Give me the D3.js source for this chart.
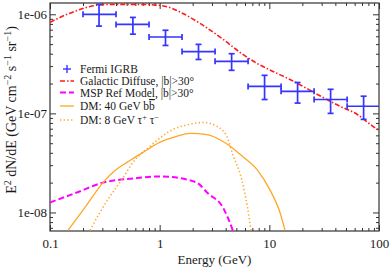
<!DOCTYPE html>
<html>
<head>
<meta charset="utf-8">
<script src="https://cdn.jsdelivr.net/npm/d3@7"></script>
<style>
  html, body { margin: 0; padding: 0; background: #fff; }
  svg, svg text { font-family: 'Liberation Serif', 'Times New Roman', 'DejaVu Serif', serif; }
  svg { display: block; }
</style>
</head>
<body>
<svg id="chart" width="390" height="268"></svg>
<script>
// ---- data ----
const igrbE    = [0.28, 0.57, 1.13, 2.26, 4.53, 9.05, 18.1, 36.2, 72.4];
const igrbELo  = [0.2, 0.4, 0.8, 1.6, 3.2, 6.4, 12.8, 25.6, 51.2];
const igrbEHi  = [0.4, 0.8, 1.6, 3.2, 6.4, 12.8, 25.6, 51.2, 102.4];
const igrbFlux = [1.0e-6, 7.9e-7, 5.9e-7, 4.2e-7, 3.35e-7, 1.87e-7, 1.67e-7, 1.38e-7, 1.18e-7];
const igrbHi   = [1.26e-6, 9.3e-7, 6.9e-7, 4.97e-7, 4.0e-7, 2.42e-7, 2.05e-7, 1.75e-7, 1.49e-7];
const igrbLo   = [7.6e-7, 6.3e-7, 4.85e-7, 3.5e-7, 2.72e-7, 1.38e-7, 1.27e-7, 1.0e-7, 8.7e-8];

const galE    = [0.1, 0.143, 0.188, 0.232, 0.352, 0.535, 0.815, 1.17, 1.63, 2.33, 3.78, 5.4, 7.7, 10.8, 15.4, 30.8, 44, 63, 88, 100];
const galFlux = [8.3e-7, 1.0e-6, 1.12e-6, 1.2e-6, 1.26e-6, 1.26e-6, 1.25e-6, 1.19e-6, 1.02e-6, 8.1e-7, 5.6e-7, 4.13e-7, 3.2e-7, 2.65e-7, 2.2e-7, 1.45e-7, 1.18e-7, 9.8e-8, 7.4e-8, 6.7e-8];

const mspE    = [0.1, 0.176, 0.304, 0.571, 1.0, 1.77, 2.3, 2.7, 3.78, 4.64, 5.2];
const mspFlux = [1.26e-8, 1.59e-8, 2.0e-8, 2.2e-8, 2.31e-8, 2.15e-8, 1.92e-8, 1.59e-8, 1.12e-8, 6.6e-9, 4.5e-9];

const bbE    = [0.146, 0.208, 0.304, 0.391, 0.503, 0.705, 1.0, 1.43, 1.89, 2.7, 3.78, 4.64, 5.7, 7.7, 10.1, 12.5, 13.9];
const bbFlux = [6.6e-9, 1.12e-8, 2.0e-8, 2.65e-8, 3.2e-8, 4.04e-8, 5.1e-8, 5.86e-8, 6.28e-8, 6.1e-8, 5.2e-8, 4.45e-8, 3.68e-8, 2.72e-8, 1.7e-8, 1.0e-8, 6.6e-9];

const tauE    = [0.232, 0.285, 0.352, 0.453, 0.571, 0.815, 1.33, 1.89, 2.5, 3.33, 4.1, 4.64, 5.6, 6.3, 6.8];
const tauFlux = [6.6e-9, 1.0e-8, 1.45e-8, 2.15e-8, 3.2e-8, 4.65e-8, 6.9e-8, 7.75e-8, 8.1e-8, 7.4e-8, 5.86e-8, 3.86e-8, 2.15e-8, 1.15e-8, 6.6e-9];

const xMajor = [0.1, 1, 10, 100];
const xMajorLabels = ["0.1", "1", "10", "100"];
const yMajor = [1e-8, 1e-7, 1e-6];
const yMajorLabels = ["1e-08", "1e-07", "1e-06"];

// ---- layout ----
const svg = d3.select("#chart");
const pLeft = 50, pRight = 379, pTop = 3, pBottom = 231;
const serif = "'Liberation Serif', 'Times New Roman', serif";

const x = d3.scaleLog().domain([0.1, 100]).range([pLeft, pRight]);
const y = d3.scaleLog().domain([6.5e-9, 1.3e-6]).range([pBottom, pTop]);

const ink = "#1a1a1a";
const axisColor = "#333";

svg.append("defs").append("clipPath").attr("id", "plotClip")
  .append("rect").attr("x", pLeft).attr("y", pTop)
  .attr("width", pRight - pLeft).attr("height", pBottom - pTop);

// minor tick values
const xMinor = [];
[0.1, 1, 10].forEach(d => { for (let k = 2; k <= 9; k++) xMinor.push(d * k); });
const yMinor = [];
[1e-9, 1e-8, 1e-7, 1e-6].forEach(d => { for (let k = 2; k <= 9; k++) { const v = d * k; if (v > 6.5e-9 && v < 1.3e-6) yMinor.push(v); } });

function styleAxis(g) {
  g.attr("font-family", serif).attr("font-size", 13);
  g.select(".domain").remove();
  g.selectAll("line").attr("stroke", axisColor).attr("stroke-width", 1);
  g.selectAll("text").attr("fill", ink);
}

// bottom
svg.append("g").attr("transform", `translate(0,${pBottom})`)
  .call(d3.axisBottom(x).tickValues(xMajor).tickSize(-6).tickPadding(8).tickFormat((d, i) => xMajorLabels[i]))
  .call(styleAxis);
svg.append("g").attr("transform", `translate(0,${pBottom})`)
  .call(d3.axisBottom(x).tickValues(xMinor).tickSize(-3).tickFormat(""))
  .call(styleAxis);
// top
svg.append("g").attr("transform", `translate(0,${pTop})`)
  .call(d3.axisTop(x).tickValues(xMajor).tickSize(-6).tickFormat(""))
  .call(styleAxis);
svg.append("g").attr("transform", `translate(0,${pTop})`)
  .call(d3.axisTop(x).tickValues(xMinor).tickSize(-3).tickFormat(""))
  .call(styleAxis);
// left
svg.append("g").attr("transform", `translate(${pLeft},0)`)
  .call(d3.axisLeft(y).tickValues(yMajor).tickSize(-6).tickPadding(3).tickFormat((d, i) => yMajorLabels[i]))
  .call(styleAxis);
svg.append("g").attr("transform", `translate(${pLeft},0)`)
  .call(d3.axisLeft(y).tickValues(yMinor).tickSize(-3).tickFormat(""))
  .call(styleAxis);
// right
svg.append("g").attr("transform", `translate(${pRight},0)`)
  .call(d3.axisRight(y).tickValues(yMajor).tickSize(-6).tickFormat(""))
  .call(styleAxis);
svg.append("g").attr("transform", `translate(${pRight},0)`)
  .call(d3.axisRight(y).tickValues(yMinor).tickSize(-3).tickFormat(""))
  .call(styleAxis);

// frame
svg.append("rect")
  .attr("x", pLeft).attr("y", pTop)
  .attr("width", pRight - pLeft).attr("height", pBottom - pTop)
  .attr("fill", "none").attr("stroke", axisColor).attr("stroke-width", 1.2);

// ---- curves ----
const plot = svg.append("g").attr("clip-path", "url(#plotClip)");
const line = d3.line().x(d => x(d[0])).y(d => y(d[1])).curve(d3.curveMonotoneX);

const curves = [
  { E: galE, F: galFlux, color: "#ff1a1a", width: 1.6, dash: "5,2,1.5,2" },
  { E: mspE, F: mspFlux, color: "#ff00ff", width: 2, dash: "6,3" },
  { E: bbE,  F: bbFlux,  color: "#ffa726", width: 1.3, dash: null },
  { E: tauE, F: tauFlux, color: "#ffa726", width: 1.6, dash: "1.3,2.4" }
];
curves.forEach(c => {
  plot.append("path")
    .datum(c.E.map((e, i) => [e, c.F[i]]))
    .attr("fill", "none")
    .attr("stroke", c.color)
    .attr("stroke-width", c.width)
    .attr("stroke-dasharray", c.dash)
    .attr("d", line);
});

// ---- Fermi IGRB points ----
const blue = "#3535ff";
const cap = 3;
const pts = plot.append("g").attr("stroke", blue).attr("stroke-width", 1.7).attr("fill", "none");
igrbE.forEach((e, i) => {
  const cx = x(e), cy = y(igrbFlux[i]);
  const x0 = x(igrbELo[i]), x1 = x(igrbEHi[i]);
  const y0 = y(igrbHi[i]), y1 = y(igrbLo[i]);
  pts.append("line").attr("x1", x0).attr("x2", x1).attr("y1", cy).attr("y2", cy);
  pts.append("line").attr("x1", cx).attr("x2", cx).attr("y1", y0).attr("y2", y1);
  pts.append("line").attr("x1", x0).attr("x2", x0).attr("y1", cy - cap).attr("y2", cy + cap);
  pts.append("line").attr("x1", x1).attr("x2", x1).attr("y1", cy - cap).attr("y2", cy + cap);
  pts.append("line").attr("x1", cx - cap).attr("x2", cx + cap).attr("y1", y0).attr("y2", y0);
  pts.append("line").attr("x1", cx - cap).attr("x2", cx + cap).attr("y1", y1).attr("y2", y1);
});

// ---- legend ----
const legendRows = [69, 81, 92.5, 106, 120];
const lg = svg.append("g").attr("font-family", serif).attr("font-size", 11.5).attr("fill", ink);
const symX0 = 60, symX1 = 74, textX = 80;

// Fermi: plus symbol
lg.append("line").attr("x1", 63).attr("x2", 71).attr("y1", legendRows[0]).attr("y2", legendRows[0]).attr("stroke", blue).attr("stroke-width", 1.4);
lg.append("line").attr("x1", 67).attr("x2", 67).attr("y1", legendRows[0] - 4).attr("y2", legendRows[0] + 4).attr("stroke", blue).attr("stroke-width", 1.4);
curves.forEach((c, i) => {
  lg.append("line")
    .attr("x1", symX0).attr("x2", symX1)
    .attr("y1", legendRows[i + 1]).attr("y2", legendRows[i + 1])
    .attr("stroke", c.color).attr("stroke-width", c.width)
    .attr("stroke-dasharray", c.dash);
});

const txt = (row) => lg.append("text").attr("x", textX).attr("y", legendRows[row]).attr("dy", "0.35em");
txt(0).text("Fermi IGRB");
txt(1).text("Galactic Diffuse, |b|>30°");
txt(2).text("MSP Ref Model, |b|>30°");
const t3 = txt(3);
t3.append("tspan").text("DM: 40 GeV b");
t3.append("tspan").style("text-decoration", "overline").text("b");
const t4 = txt(4);
t4.append("tspan").text("DM: 8 GeV τ");
t4.append("tspan").attr("baseline-shift", "super").attr("font-size", 8).text("+");
t4.append("tspan").text(" τ");
t4.append("tspan").attr("baseline-shift", "super").attr("font-size", 8).text("−");

// ---- axis titles ----
svg.append("text")
  .attr("x", (pLeft + pRight) / 2).attr("y", 264)
  .attr("text-anchor", "middle").attr("fill", ink)
  .attr("font-family", serif).attr("font-size", 13)
  .text("Energy (GeV)");

const yt = svg.append("text")
  .attr("transform", "translate(16,110) rotate(-90)")
  .attr("text-anchor", "middle").attr("fill", ink)
  .attr("font-family", serif).attr("font-size", 14);
yt.append("tspan").text("E");
yt.append("tspan").attr("baseline-shift", "super").attr("font-size", 10).text("2");
yt.append("tspan").text(" dN/dE (GeV cm");
yt.append("tspan").attr("baseline-shift", "super").attr("font-size", 10).text("−2");
yt.append("tspan").text(" s");
yt.append("tspan").attr("baseline-shift", "super").attr("font-size", 10).text("−1");
yt.append("tspan").text(" sr");
yt.append("tspan").attr("baseline-shift", "super").attr("font-size", 10).text("−1");
yt.append("tspan").text(")");
</script>
</body>
</html>
